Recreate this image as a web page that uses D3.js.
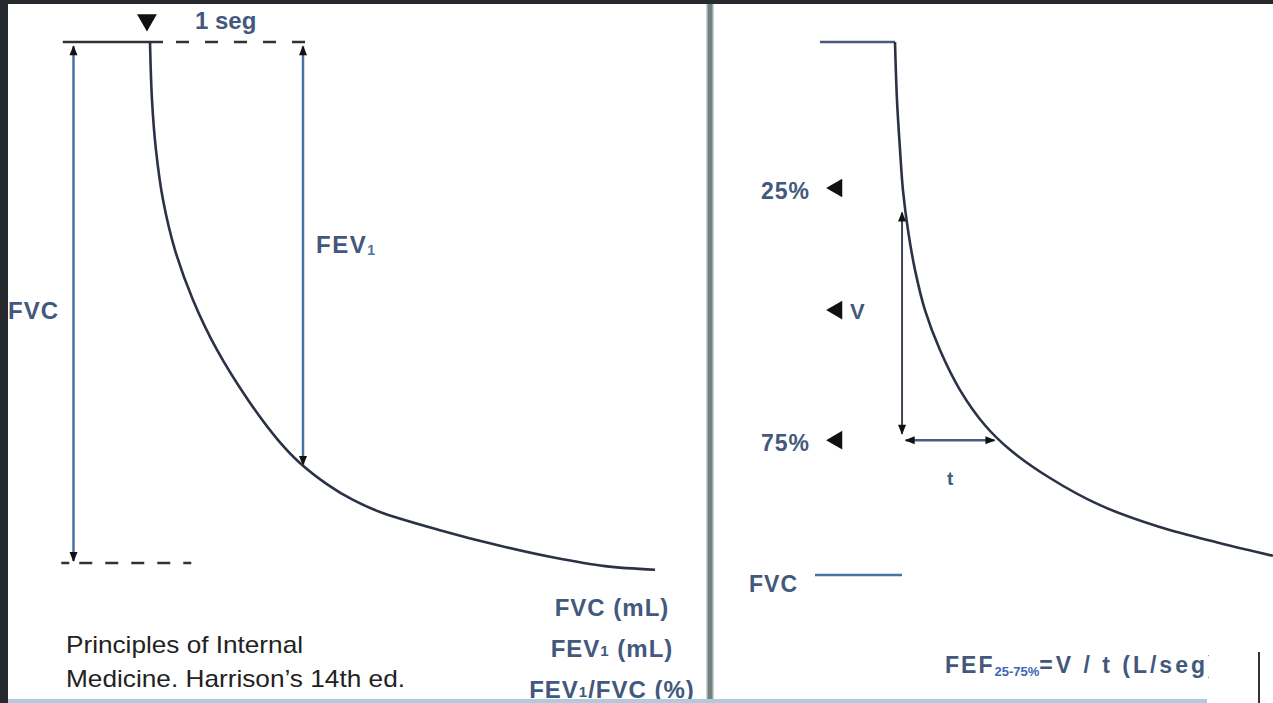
<!DOCTYPE html>
<html>
<head>
<meta charset="utf-8">
<script src="https://cdn.jsdelivr.net/npm/d3@7"></script>
<style>
  html, body { margin: 0; padding: 0; background: #26292e; }
  svg { display: block; }
  .lbl { font-family: "Liberation Sans", Arial, sans-serif; font-weight: bold; fill: #42587c; }
  .note { font-family: "Liberation Sans", Arial, sans-serif; fill: #222; }
</style>
</head>
<body>
<div id="chart"></div>
<script>
// Left spirogram: time in seconds, volume exhaled as % of FVC
const leftTime   = [0, 0.013, 0.039, 0.085, 0.163, 0.281, 0.438, 0.641, 0.837, 0.980, 1.163, 1.327, 1.503, 1.895, 2.288, 2.647, 2.974, 3.301];
const leftVolume = [0, 11.1, 20.7, 30.3, 39.9, 49.5, 59.1, 68.7, 76.4, 80.8, 85.0, 87.9, 90.2, 93.7, 96.7, 99.0, 100.6, 101.3];
const fev1Time = 1;
const fev1Value = 81.2;

// Right spirogram (FEF 25-75%)
const rightTime   = [0, 0.013, 0.033, 0.052, 0.085, 0.131, 0.196, 0.294, 0.425, 0.588, 0.752, 1.013, 1.34, 1.73, 2.12, 2.47];
const rightVolume = [0, 10.9, 20.3, 27.8, 35.3, 42.8, 50.3, 57.8, 65.3, 71.9, 76.5, 81.8, 86.9, 91.0, 94.0, 96.4];
const markerLabels = ["25%", "V", "75%"];
const markerLevels = [27.4, 50.3, 74.7];

const leftNotes = ["FVC (mL)", "FEV1 (mL)", "FEV1/FVC (%)"];
const credit = ["Principles of Internal", "Medicine. Harrison\u2019s 14th ed."];

const W = 1273, H = 703;
const svg = d3.select("#chart").append("svg").attr("width", W).attr("height", H);

const defs = svg.append("defs");
defs.append("marker")
    .attr("id", "head")
    .attr("viewBox", "0 0 10 10")
    .attr("refX", 9).attr("refY", 5)
    .attr("markerWidth", 11).attr("markerHeight", 10)
    .attr("markerUnits", "userSpaceOnUse")
    .attr("orient", "auto-start-reverse")
  .append("path")
    .attr("d", "M0,1 L10,5 L0,9 Z")
    .attr("fill", "#111");
defs.append("clipPath").attr("id", "fefClip")
  .append("rect").attr("x", 712).attr("y", 600).attr("width", 497).attr("height", 100);

// white paper
svg.append("rect").attr("x", 8).attr("y", 4).attr("width", W - 8).attr("height", H - 4).attr("fill", "#fff");

// ---------- left panel ----------
const xL = d3.scaleLinear().domain([0, 1]).range([150, 303]);
const yL = d3.scaleLinear().domain([0, 100]).range([42, 563]);
const curveLine = d3.line().curve(d3.curveCatmullRom.alpha(0.5));

const left = svg.append("g");

// top plateau + dashes
left.append("line")
    .attr("x1", xL(-0.57)).attr("x2", xL(0.085)).attr("y1", yL(0)).attr("y2", yL(0))
    .attr("stroke", "#2f3338").attr("stroke-width", 2.5);
left.append("line")
    .attr("x1", xL(0.17)).attr("x2", xL(1.1)).attr("y1", yL(0)).attr("y2", yL(0))
    .attr("stroke", "#2f3338").attr("stroke-width", 2.5)
    .attr("stroke-dasharray", "13,16");
// bottom dashes
left.append("line")
    .attr("x1", xL(-0.58)).attr("x2", xL(0.31)).attr("y1", yL(100)).attr("y2", yL(100))
    .attr("stroke", "#2f3338").attr("stroke-width", 2.5)
    .attr("stroke-dasharray", "8,10,13,13,13,13,13,13,13,13");

// curve
left.append("path")
    .attr("d", curveLine(leftTime.map((t, i) => [xL(t), yL(leftVolume[i])])))
    .attr("fill", "none").attr("stroke", "#2b3247").attr("stroke-width", 2.6);

// FVC arrow
left.append("line")
    .attr("x1", xL(-0.5)).attr("x2", xL(-0.5)).attr("y1", yL(0.8)).attr("y2", yL(99.6))
    .attr("stroke", "#4a70a8").attr("stroke-width", 2.5)
    .attr("marker-start", "url(#head)").attr("marker-end", "url(#head)");
// FEV1 arrow
left.append("line")
    .attr("x1", xL(fev1Time)).attr("x2", xL(fev1Time)).attr("y1", yL(0.8)).attr("y2", yL(fev1Value))
    .attr("stroke", "#4a70a8").attr("stroke-width", 2.5)
    .attr("marker-start", "url(#head)").attr("marker-end", "url(#head)");

// time mark triangle
left.append("path")
    .attr("d", d3.symbol(d3.symbolTriangle, 170)())
    .attr("transform", `translate(${xL(-0.02)},20) rotate(180)`)
    .attr("fill", "#111");

left.append("text").attr("class", "lbl").attr("x", 195).attr("y", 29)
    .attr("font-size", 24).attr("fill", "#4d6fa3").text("1 seg");

const fevT = left.append("text").attr("class", "lbl").attr("x", 316).attr("y", 253)
    .attr("font-size", 24).attr("letter-spacing", 1.5);
fevT.append("tspan").text("FEV");
fevT.append("tspan").attr("font-size", 14).attr("dy", 2).attr("fill", "#4d6fa3").text("1");

left.append("text").attr("class", "lbl").attr("x", 8).attr("y", 319)
    .attr("font-size", 24).attr("letter-spacing", 1).text("FVC");

// bottom notes
leftNotes.forEach((s, i) => {
  const t = left.append("text").attr("class", "lbl").attr("text-anchor", "middle")
      .attr("x", 612).attr("y", 616 + i * 41).attr("font-size", 24).attr("letter-spacing", 1);
  const m = s.match(/^(FEV)1(.*)$/);
  if (m) {
    t.append("tspan").text(m[1]);
    t.append("tspan").attr("font-size", 15).attr("dy", -1).text("1");
    t.append("tspan").attr("dy", 1).text(m[2]);
  } else {
    t.text(s);
  }
});

credit.forEach((s, i) => {
  left.append("text").attr("class", "note").attr("x", 66).attr("y", 653 + i * 34)
      .attr("font-size", 24).attr("textLength", i === 0 ? 237 : 339)
      .attr("lengthAdjust", "spacingAndGlyphs").text(s);
});

// ---------- separator ----------
svg.append("rect").attr("x", 706).attr("y", 4).attr("width", 8).attr("height", H - 4).attr("fill", "#c9d2d2");
svg.append("rect").attr("x", 707.5).attr("y", 4).attr("width", 5).attr("height", H - 4).attr("fill", "#74807f");

// ---------- right panel ----------
const xR = d3.scaleLinear().domain([0, 1]).range([895, 1048]);
const yR = d3.scaleLinear().domain([0, 100]).range([42, 575]);
const right = svg.append("g");

right.append("line")
    .attr("x1", xR(-0.49)).attr("x2", xR(0)).attr("y1", yR(0)).attr("y2", yR(0))
    .attr("stroke", "#4a5a78").attr("stroke-width", 2.5);
right.append("path")
    .attr("d", curveLine(rightTime.map((t, i) => [xR(t), yR(rightVolume[i])])))
    .attr("fill", "none").attr("stroke", "#2b3247").attr("stroke-width", 2.6);

// V arrow and t arrow
right.append("line")
    .attr("x1", xR(0.046)).attr("x2", xR(0.046)).attr("y1", yR(73.5)).attr("y2", yR(32))
    .attr("stroke", "#3f4656").attr("stroke-width", 2)
    .attr("marker-end", "url(#head)").attr("marker-start", "url(#head)");
right.append("line")
    .attr("x1", xR(0.07)).attr("x2", xR(0.65)).attr("y1", yR(markerLevels[2])).attr("y2", yR(markerLevels[2]))
    .attr("stroke", "#4b5a86").attr("stroke-width", 2.5)
    .attr("marker-end", "url(#head)").attr("marker-start", "url(#head)");
right.append("text").attr("class", "lbl").attr("x", xR(0.36)).attr("y", 485)
    .attr("font-size", 19).attr("text-anchor", "middle").attr("fill", "#333").text("t");

// level markers
markerLabels.forEach((s, i) => {
  const y = yR(markerLevels[i]);
  right.append("path")
      .attr("d", d3.symbol(d3.symbolTriangle, 150)())
      .attr("transform", `translate(${xR(-0.38)},${y}) rotate(-90)`)
      .attr("fill", "#111");
  if (s === "V") {
    right.append("text").attr("class", "lbl").attr("x", 850).attr("y", y + 9)
        .attr("font-size", 22).text(s);
  } else {
    right.append("text").attr("class", "lbl").attr("x", 810).attr("y", y + 11)
        .attr("font-size", 23).attr("letter-spacing", 1).attr("text-anchor", "end").text(s);
  }
});

// FVC level
right.append("text").attr("class", "lbl").attr("x", 749).attr("y", 592)
    .attr("font-size", 23).attr("letter-spacing", 1).text("FVC");
right.append("line")
    .attr("x1", 815).attr("x2", xR(0.046)).attr("y1", yR(100)).attr("y2", yR(100))
    .attr("stroke", "#4a70a8").attr("stroke-width", 2.5);

// formula
const fef = right.append("text").attr("class", "lbl").attr("x", 945).attr("y", 673)
    .attr("font-size", 23).attr("letter-spacing", 2).attr("clip-path", "url(#fefClip)");
fef.append("tspan").text("FEF");
fef.append("tspan").attr("font-size", 13).attr("dy", 3).attr("letter-spacing", 0).attr("fill", "#3d66b5").text("25-75%");
fef.append("tspan").attr("dy", -3).attr("letter-spacing", 3).text("=V / t (L/seg)");

// page edges
svg.append("rect").attr("x", 8).attr("y", 699).attr("width", 1199).attr("height", 4).attr("fill", "#b3c9de");
svg.append("line").attr("x1", 1259).attr("x2", 1259).attr("y1", 652).attr("y2", H)
    .attr("stroke", "#333").attr("stroke-width", 2);
</script>
</body>
</html>
